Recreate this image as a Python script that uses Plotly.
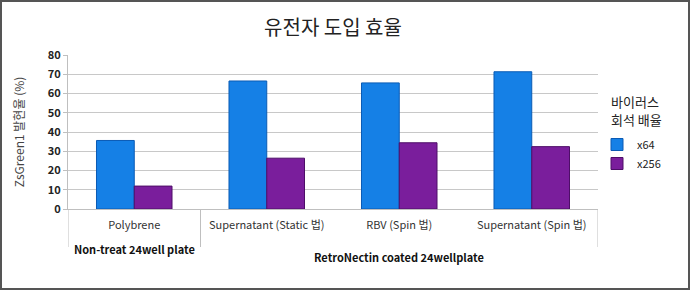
import plotly.graph_objects as go

categories = ["Polybrene", "Supernatant (Static 법)", "RBV (Spin 법)", "Supernatant (Spin 법)"]
x64_values = [35.6, 66.5, 65.5, 71.3]
x256_values = [11.9, 26.4, 34.4, 32.4]
series_names = ["x64", "x256"]
y_ticks = [0, 10, 20, 30, 40, 50, 60, 70, 80]
group_labels = ["Non-treat 24well plate", "RetroNectin coated 24wellplate"]
legend_title_lines = ["바이러스", "회석 배율"]

FONT = "Noto Sans CJK KR"
L, R, T, B = 68, 92, 55, 81
W, H = 690, 290
pw, ph = W - L - R, H - T - B


def px_x(p):
    return (p - L) / pw


def px_y(p):
    return (H - B - p) / ph


fig = go.Figure()
fig.add_trace(go.Bar(
    x=categories, y=x64_values, name=series_names[0],
    marker=dict(color="#1580E6", line=dict(color="#0A5BB5", width=1)),
))
fig.add_trace(go.Bar(
    x=categories, y=x256_values, name=series_names[1],
    marker=dict(color="#7A1E9C", line=dict(color="#4E0E68", width=1)),
))

shapes = []
for xv, y1 in [(-0.5, 247), (0.5, 247), (3.5, 247)]:
    shapes.append(dict(type="line", xref="x", yref="paper", x0=xv, x1=xv,
                       y0=0, y1=px_y(y1), line=dict(color="#BFBFBF", width=1)))
shapes.append(dict(type="rect", xref="paper", yref="paper",
                   x0=px_x(1), x1=px_x(689), y0=px_y(1), y1=px_y(289),
                   line=dict(color="#555555", width=2)))

annotations = [
    dict(text=group_labels[0], xref="x", yref="paper", x=0, y=px_y(249),
         yanchor="middle", showarrow=False,
         font=dict(family=FONT, size=11, color="#111111", weight=600)),
    dict(text=group_labels[1], xref="x", yref="paper", x=2, y=px_y(257),
         yanchor="middle", showarrow=False,
         font=dict(family=FONT, size=11, color="#111111", weight=600)),
]
for line_text, ypix in zip(legend_title_lines, [101, 119]):
    annotations.append(dict(text=line_text, xref="paper", yref="paper",
                            x=px_x(609), y=px_y(ypix), xanchor="left", yanchor="middle",
                            showarrow=False,
                            font=dict(family=FONT, size=13, color="#222222")))

fig.update_layout(
    width=W, height=H,
    margin=dict(l=L, r=R, t=T, b=B),
    paper_bgcolor="white", plot_bgcolor="white",
    title=dict(text="유전자 도입 효율", x=0.5, xref="paper", xanchor="center",
               y=1 - 28 / H, yanchor="middle",
               font=dict(family=FONT, size=20, color="#222222")),
    barmode="group", bargap=0.43, bargroupgap=0,
    font=dict(family=FONT, size=11, color="#333333"),
    showlegend=True,
    legend=dict(x=px_x(597), y=px_y(130), xanchor="left", yanchor="top",
                font=dict(family=FONT, size=11, color="#222222"),
                bgcolor="rgba(0,0,0,0)", itemwidth=30),
    xaxis=dict(showgrid=False, showline=True, linecolor="#BFBFBF", linewidth=1,
               ticks="", ticklabelstandoff=6,
               tickfont=dict(family=FONT, size=11, color="#333333"),
               range=[-0.5, 3.5]),
    yaxis=dict(range=[0, 80], tickvals=y_ticks, showgrid=True, gridcolor="#C8C8C8",
               gridwidth=1, showline=True, linecolor="#BFBFBF", ticks="outside",
               ticklen=4, tickcolor="#BFBFBF", zeroline=False,
               tickfont=dict(family=FONT, size=11, color="#222222", weight=600),
               title=dict(text="ZsGreen1 발현율 (%)", standoff=20,
                          font=dict(family=FONT, size=12, color="#444444"))),
    shapes=shapes, annotations=annotations,
)

fig.write_html("out.html")
